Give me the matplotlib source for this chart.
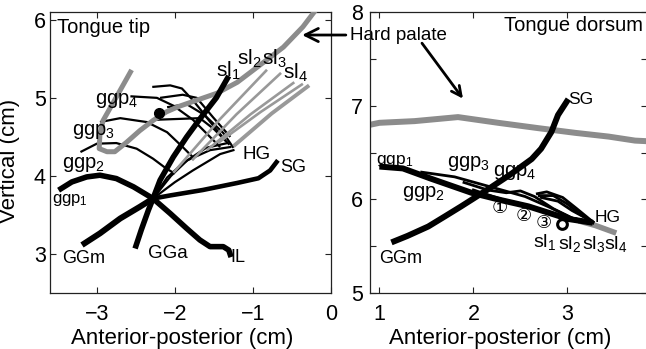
import matplotlib
matplotlib.use('Agg')
import matplotlib.pyplot as plt
from matplotlib.ticker import FixedLocator

plt.rcParams['font.family'] = ['Liberation Sans', 'DejaVu Sans']
plt.rcParams['mathtext.fontset'] = 'custom'
plt.rcParams['mathtext.rm'] = 'Liberation Sans'
plt.rcParams['mathtext.it'] = 'Liberation Sans:italic'
plt.rcParams['mathtext.bf'] = 'Liberation Sans:bold'

# ---------------- Tongue tip panel ----------------
tip_ggm_x = [-3.19, -2.96, -2.70, -2.45, -2.28]
tip_ggm_y = [3.115, 3.264, 3.455, 3.604, 3.71]
tip_gga_x = [-2.51, -2.43, -2.34, -2.28, -2.19, -2.02, -1.85, -1.68, -1.47, -1.31]
tip_gga_y = [3.07, 3.31, 3.56, 3.71, 3.945, 4.243, 4.498, 4.73, 5.0, 5.28]
tip_il_x = [-3.49, -3.32, -3.13, -2.96, -2.75, -2.53, -2.28, -2.06, -1.85, -1.68, -1.55, -1.38, -1.31, -1.28]
tip_il_y = [3.817, 3.923, 3.987, 4.009, 3.966, 3.86, 3.71, 3.519, 3.328, 3.179, 3.094, 3.094, 3.05, 2.96]
tip_sg_x = [-2.28, -2.06, -1.64, -1.2, -0.93, -0.78, -0.68]
tip_sg_y = [3.71, 3.75, 3.82, 3.91, 3.97, 4.07, 4.2]

tip_hg_x = [[-2.28, -2.05, -1.84, -1.55, -1.29],
            [-2.28, -2.0, -1.77, -1.42, -1.25],
            [-2.28, -2.1, -1.9, -1.6, -1.33]]
tip_hg_y = [[3.71, 4.0, 4.2, 4.33, 4.37],
            [3.71, 3.92, 4.07, 4.28, 4.33],
            [3.71, 3.98, 4.16, 4.36, 4.42]]

tip_ggp_x = [[-3.21, -3.0, -2.75, -2.49, -2.28, -2.11, -2.0],
             [-2.96, -2.7, -2.36, -2.1, -1.9, -1.77],
             [-2.57, -2.23, -2.02, -1.77, -1.55, -1.42],
             [-2.29, -2.06, -1.91, -1.77, -1.59, -1.38, -1.25],
             [-2.19, -1.9, -1.72, -1.51, -1.29],
             [-2.1, -1.85, -1.62, -1.35],
             [-2.23, -1.68, -1.5, -1.3]]
tip_ggp_y = [[4.306, 4.413, 4.421, 4.349, 4.221, 4.094, 4.03],
             [4.69, 4.74, 4.69, 4.56, 4.37, 4.24],
             [5.02, 5.0, 4.9, 4.72, 4.5, 4.37],
             [5.14, 5.16, 5.12, 4.97, 4.75, 4.55, 4.36],
             [5.0, 5.04, 5.0, 4.75, 4.5],
             [4.88, 4.92, 4.78, 4.45],
             [4.72, 4.74, 4.6, 4.4]]

tip_dot_x = [-2.2]
tip_dot_y = [4.8]

tip_palate_x = [-2.57, -2.75, -2.92, -2.96, -2.97, -2.87, -2.77, -2.62, -2.45, -2.28,
                -2.11, -1.95, -1.72, -1.46, -1.2, -0.91, -0.61, -0.36, -0.2]
tip_palate_y = [5.33, 5.01, 4.71, 4.54, 4.35, 4.31, 4.31, 4.43, 4.58, 4.71,
                4.82, 4.89, 4.97, 5.06, 5.2, 5.42, 5.65, 5.91, 6.12]

tip_sl_x = [[-2.02, -1.42, -0.82],
            [-1.78, -1.21, -0.64],
            [-1.59, -1.03, -0.47],
            [-1.45, -0.90, -0.36],
            [-1.25, -0.76, -0.28]]
tip_sl_y = [[4.04, 4.73, 5.36],
            [4.2, 4.79, 5.32],
            [4.33, 4.79, 5.2],
            [4.42, 4.82, 5.18],
            [4.38, 4.8, 5.16]]

# ---------------- Tongue dorsum panel ----------------
dor_palate_x = [0.9, 1.0, 1.374, 1.836, 2.263, 2.69, 3.082, 3.438, 3.72, 3.86]
dor_palate_y = [6.796, 6.817, 6.835, 6.878, 6.817, 6.76, 6.71, 6.67, 6.627, 6.62]
dor_ggm_x = [1.128, 1.3, 1.52, 1.7, 1.87, 2.16, 2.40, 2.62, 2.72, 2.83, 2.9, 3.01]
dor_ggm_y = [5.54, 5.61, 5.71, 5.82, 5.925, 6.11, 6.27, 6.43, 6.54, 6.72, 6.9, 7.07]
dor_ggp1_x = [1.0, 1.25, 1.55, 1.98, 2.3, 2.585, 3.01, 3.27]
dor_ggp1_y = [6.35, 6.33, 6.22, 6.07, 5.99, 5.925, 5.79, 5.75]
dor_lens_x = [[1.45, 1.8, 2.05, 2.3, 2.55, 2.8, 3.05, 3.27],
              [1.9, 2.15, 2.35, 2.5, 2.65, 2.85, 3.05, 3.27],
              [2.0, 2.3, 2.6, 2.9, 3.27],
              [2.68, 2.78, 2.95, 3.1, 3.27],
              [2.7, 2.85, 3.0, 3.15, 3.27],
              [2.72, 2.9, 3.05, 3.27]]
dor_lens_y = [[6.29, 6.24, 6.17, 6.1, 6.03, 5.92, 5.8, 5.75],
              [6.18, 6.1, 6.07, 6.09, 6.03, 5.9, 5.8, 5.75],
              [6.1, 6.0, 5.93, 5.83, 5.75],
              [6.06, 6.08, 6.02, 5.9, 5.76],
              [6.04, 6.04, 5.95, 5.83, 5.76],
              [6.02, 5.98, 5.88, 5.76]]
dor_sl_x = [3.12, 3.3, 3.52]
dor_sl_y = [5.77, 5.72, 5.64]
dor_circle_x = [2.945]
dor_circle_y = [5.74]
dor_num_labels = ['\u2460', '\u2461', '\u2462']
dor_num_x = [2.28, 2.53, 2.75]
dor_num_y = [5.91, 5.82, 5.75]

W, H = 646, 349
fig = plt.figure(figsize=(W / 100, H / 100), dpi=100)
ax1 = fig.add_axes([50 / W, (H - 293) / H, 281 / W, 281 / H])
ax2 = fig.add_axes([370 / W, (H - 293) / H, 277.3 / W, 281 / H])
ax2.set_facecolor('none')

BLK = 'black'
GRY = '#8c8c8c'
GRY2 = '#999999'

# ---- left ----
for xs, ys in zip(tip_ggp_x, tip_ggp_y):
    ax1.plot(xs, ys, color=BLK, lw=1.6, zorder=2, solid_capstyle='butt')
for xs, ys in zip(tip_hg_x, tip_hg_y):
    ax1.plot(xs, ys, color=BLK, lw=1.6, zorder=2)
for i, (xs, ys) in enumerate(zip(tip_sl_x, tip_sl_y)):
    ax1.plot(xs, ys, color=GRY2, lw=2.8 if i == 4 else 1.9, zorder=3, solid_capstyle='butt')
ax1.plot(tip_palate_x, tip_palate_y, color=GRY, lw=3.6, zorder=3, solid_joinstyle='round')
ax1.plot(tip_ggm_x, tip_ggm_y, color=BLK, lw=4.3, zorder=4, solid_capstyle='butt')
ax1.plot(tip_gga_x, tip_gga_y, color=BLK, lw=4.0, zorder=4, solid_capstyle='butt')
ax1.plot(tip_il_x, tip_il_y, color=BLK, lw=4.0, zorder=4, solid_capstyle='butt')
ax1.plot(tip_sg_x, tip_sg_y, color=BLK, lw=3.3, zorder=4, solid_capstyle='butt')
ax1.plot(tip_dot_x, tip_dot_y, 'o', color=BLK, ms=7, zorder=5)

fs = 14.5
ax1.text(-3.51, 5.83, 'Tongue tip', fontsize=14.5)
ax1.text(-3.02, 4.92, r'ggp$_4$', fontsize=fs)
ax1.text(-3.32, 4.52, r'ggp$_3$', fontsize=fs)
ax1.text(-3.45, 4.10, r'ggp$_2$', fontsize=fs)
ax1.text(-3.57, 3.65, r'ggp$\mathregular{_1}$', fontsize=12)
ax1.text(-3.45, 2.88, 'GGm', fontsize=13)
ax1.text(-2.34, 2.95, 'GGa', fontsize=13.5)
ax1.text(-1.29, 2.895, 'IL', fontsize=13)
ax1.text(-1.14, 4.215, 'HG', fontsize=13.5)
ax1.text(-0.65, 4.05, 'SG', fontsize=13)
ax1.text(-1.47, 5.27, r'sl$_1$', fontsize=15)
ax1.text(-1.20, 5.42, r'sl$_2$', fontsize=15)
ax1.text(-0.88, 5.42, r'sl$_3$', fontsize=15)
ax1.text(-0.62, 5.25, r'sl$_4$', fontsize=15)

# ---- right ----
ax2.plot(dor_palate_x, dor_palate_y, color=GRY, lw=4.3, zorder=2)
ax2.plot(dor_sl_x, dor_sl_y, color=GRY, lw=4.0, zorder=2, solid_capstyle='butt')
for xs, ys in zip(dor_lens_x, dor_lens_y):
    ax2.plot(xs, ys, color=BLK, lw=2.0, zorder=3)
ax2.plot(dor_ggp1_x, dor_ggp1_y, color=BLK, lw=4.3, zorder=4, solid_capstyle='butt')
ax2.plot(dor_ggm_x, dor_ggm_y, color=BLK, lw=4.3, zorder=4, solid_capstyle='butt')
ax2.plot(dor_circle_x, dor_circle_y, 'o', mfc='white', mec=BLK, mew=2.2, ms=7, zorder=5)
for t, x, y in zip(dor_num_labels, dor_num_x, dor_num_y):
    ax2.text(x, y, t, fontsize=13, ha='center', va='center',
             family=['DejaVu Sans', 'Noto Sans CJK SC'], zorder=6)

ax2.text(3.80, 7.80, 'Tongue dorsum', fontsize=14.5, ha='right')
ax2.text(3.006, 7.02, 'SG', fontsize=12.5)
ax2.text(0.964, 6.38, r'ggp$_1$', fontsize=12.5)
ax2.text(1.72, 6.34, r'ggp$_3$', fontsize=fs)
ax2.text(2.21, 6.25, r'ggp$_4$', fontsize=fs)
ax2.text(1.24, 6.03, r'ggp$_2$', fontsize=fs)
ax2.text(1.0, 5.32, 'GGm', fontsize=13)
ax2.text(3.29, 5.76, 'HG', fontsize=12.5)
ax2.text(2.63, 5.49, r'sl$_1$', fontsize=14)
ax2.text(2.90, 5.47, r'sl$_2$', fontsize=14)
ax2.text(3.155, 5.47, r'sl$_3$', fontsize=14)
ax2.text(3.39, 5.47, r'sl$_4$', fontsize=14)

# ---- annotations ----
ax1.annotate('Hard palate', xy=(-0.37, 5.805), xycoords='data',
             xytext=(350, H - 35), textcoords='figure pixels',
             ha='left', va='center', fontsize=13.5, annotation_clip=False,
             arrowprops=dict(arrowstyle='->,head_length=0.7,head_width=0.35',
                             lw=2, color=BLK, shrinkA=1, shrinkB=0))
ax2.annotate('', xy=(1.889, 7.075), xytext=(1.453, 7.667),
             arrowprops=dict(arrowstyle='->,head_length=0.7,head_width=0.35',
                             lw=2, color=BLK, shrinkA=0, shrinkB=0))

# ---- axes styling ----
for ax in (ax1, ax2):
    for s in ax.spines.values():
        s.set_linewidth(0.9)
        s.set_color('#222222')
    ax.tick_params(direction='in', top=True, right=True, length=4, width=0.8,
                   labelsize=15.5, color='#222222')
    ax.tick_params(axis='x', pad=8)

ax1.set_xlim(-3.6, 0)
ax1.set_ylim(2.5, 6.1)
ax1.set_xticks([-3, -2, -1, 0])
ax1.set_yticks([3, 4, 5, 6])
ax1.tick_params(axis='y', pad=3)
ax1.set_xlabel('Anterior-posterior (cm)', fontsize=16)
ax1.set_ylabel('Vertical (cm)', fontsize=16)
ax1.xaxis.set_label_coords(0.471, -0.125)
ax1.yaxis.set_label_coords(-0.105, 0.47)

ax2.set_xlim(0.9, 3.85)
ax2.set_ylim(5, 8)
ax2.set_xticks([1, 2, 3])
ax2.set_yticks([5, 6, 7, 8])
ax2.yaxis.set_minor_locator(FixedLocator([5.5, 6.5, 7.5]))
ax2.tick_params(which='minor', direction='in', right=True, length=4, width=0.8, color='#222222')
ax2.tick_params(axis='y', pad=5)
ax2.set_xlabel('Anterior-posterior (cm)', fontsize=16)
ax2.xaxis.set_label_coords(0.469, -0.125)

fig.savefig('out.png', dpi=100)
